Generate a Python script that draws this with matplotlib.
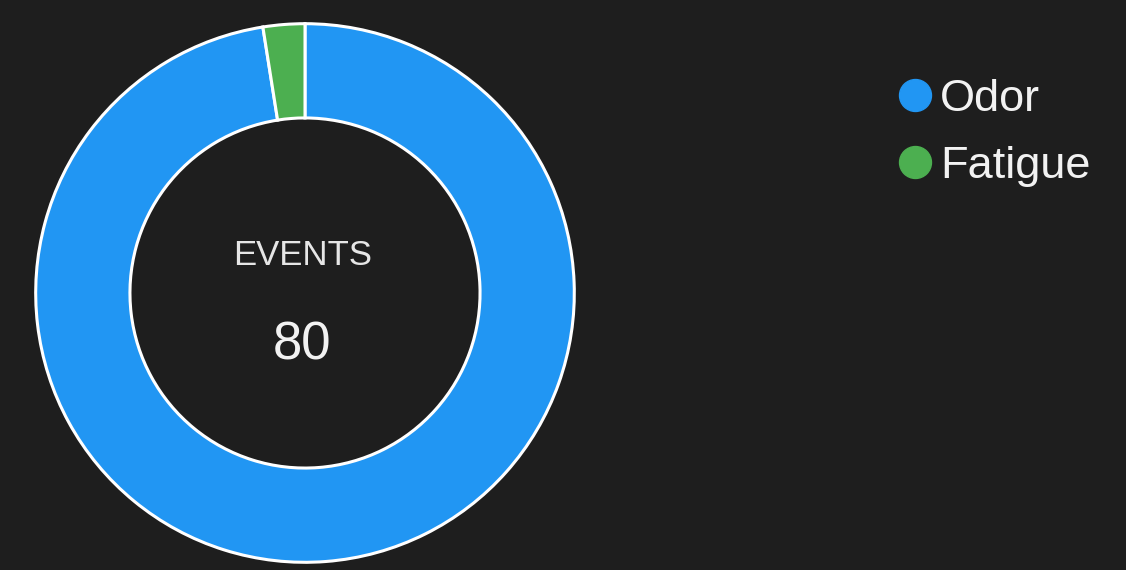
import matplotlib
matplotlib.use("Agg")
import matplotlib.pyplot as plt
from matplotlib.lines import Line2D

labels = ["Odor", "Fatigue"]
values = [78, 2]
colors = ["#2196F3", "#4CAF50"]
center_title = "EVENTS"
center_value = str(sum(values))

bg = "#1e1e1e"
plt.rcParams['font.family'] = ['Liberation Sans', 'DejaVu Sans']

W, H = 1126, 570
fig = plt.figure(figsize=(W / 100, H / 100), dpi=100, facecolor=bg)
cx, cy, r = 305, 293, 272
ax = fig.add_axes([(cx - r) / W, (H - cy - r) / H, 2 * r / W, 2 * r / H])
ax.set_facecolor(bg)
ax.pie(values, colors=colors, startangle=90, counterclock=False,
       radius=1.0,
       wedgeprops=dict(width=0.35, edgecolor="white", linewidth=2.2))
ax.set_xlim(-1.01, 1.01)
ax.set_ylim(-1.01, 1.01)
ax.set_aspect("equal")
ax.axis("off")

fig.text(303 / W, 1 - 255 / H, center_title, ha="center", va="center",
         fontsize=25, color="#e6e6e6")
fig.text(302 / W, 1 - 346 / H, center_value, ha="center", va="center",
         fontsize=38, color="#f2f2f2")

handles = [Line2D([0], [0], marker="o", linestyle="none", markersize=23,
                  markerfacecolor=c, markeredgecolor=c) for c in colors]
leg = fig.legend(handles, labels, loc="upper left",
                 bbox_to_anchor=(901 / W, 1 - 79 / H),
                 frameon=False, fontsize=32.5, labelcolor="#f2f2f2",
                 handlelength=0.6, handletextpad=0.26, labelspacing=0.58,
                 borderpad=0, borderaxespad=0)

fig.savefig("out.png", dpi=100, facecolor=bg)
